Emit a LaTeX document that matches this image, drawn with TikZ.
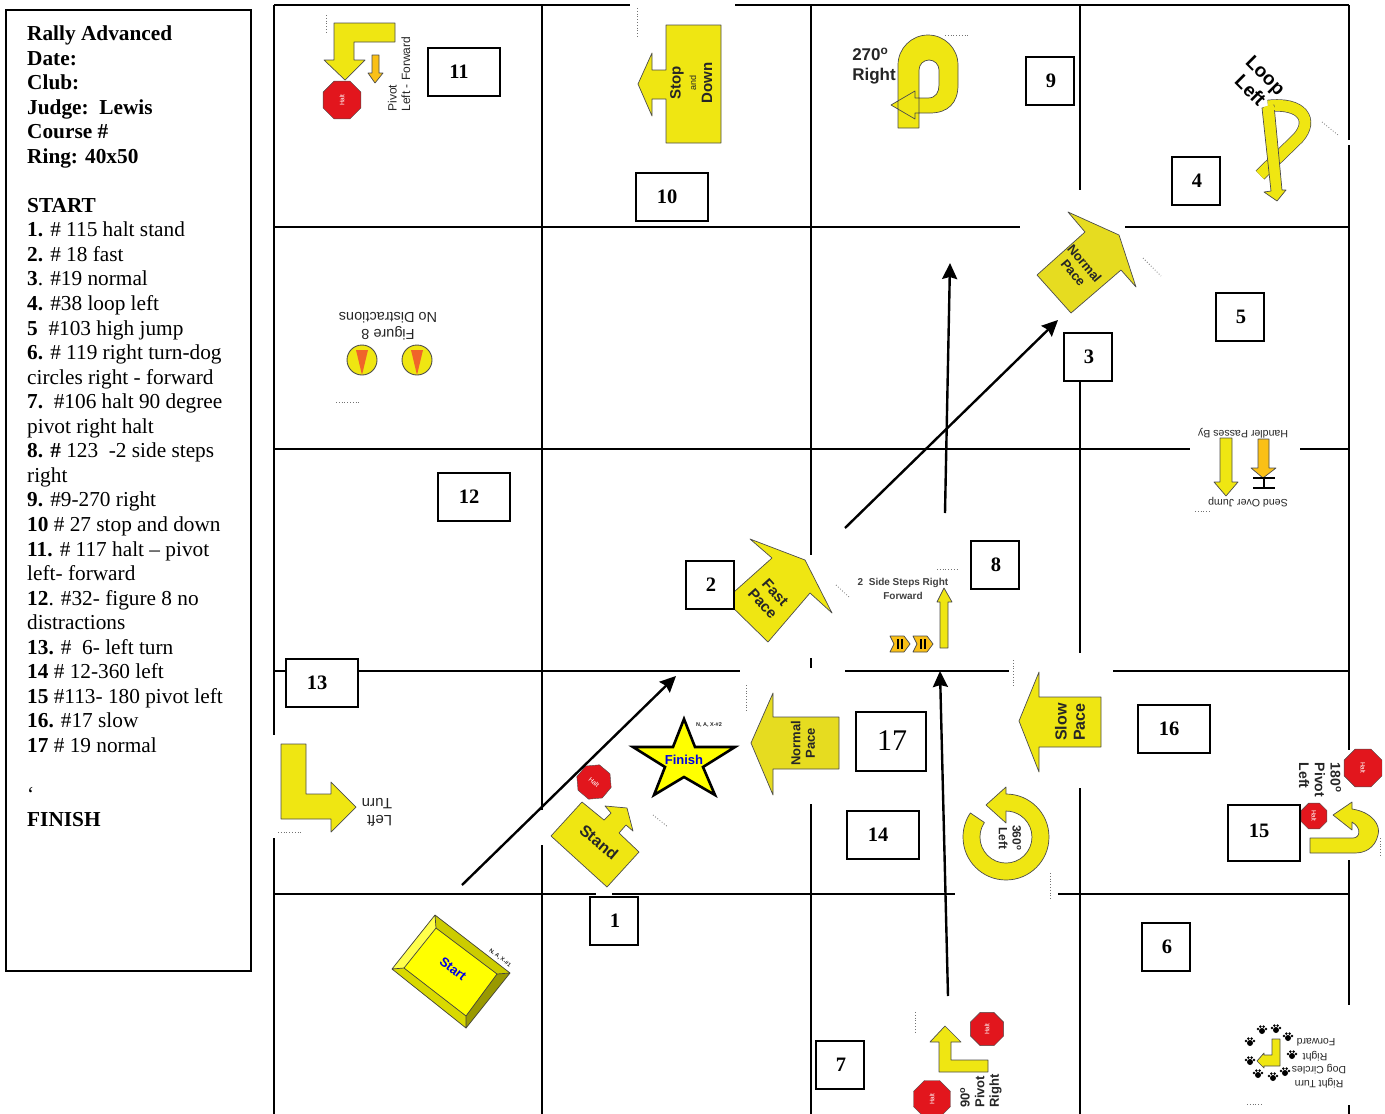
\documentclass[tikz,border=0pt]{standalone}
\usepackage{fontspec}
\setmainfont{Liberation Serif}
\setsansfont{Liberation Sans}
\usetikzlibrary{arrows.meta,shapes.geometric}
\definecolor{signyellow}{HTML}{EFE612}
\definecolor{duskyellow}{HTML}{E6DC20}
\definecolor{starkyellow}{HTML}{FFFF00}
\definecolor{conedorange}{HTML}{FAC016}
\definecolor{coneorange}{HTML}{F0642A}
\definecolor{haltred}{HTML}{E2161D}
\tikzset{
  gridline/.style={line width=2pt},
  panel/.style={draw, line width=2pt},
  paneltext/.style={align=left, anchor=north west, inner sep=0pt,
                    font=\fontsize{21.3}{24.55}\selectfont},
  numbox/.style={rectangle, draw, line width=2pt, fill=white, inner sep=0pt,
                 minimum width=48pt, minimum height=48pt,
                 execute at begin node={\hspace*{2pt}},
                 font=\bfseries\fontsize{20.5}{24}\selectfont},
  widebox/.style={numbox, minimum width=72pt,
                  execute at end node={\hspace*{12pt}}},
  signarrow/.style={draw=black!70, fill=signyellow, line width=0.7pt, line join=round},
  duskarrow/.style={signarrow, fill=duskyellow},
  orangearrow/.style={signarrow, fill=conedorange},
  signtxt/.style={align=center, inner sep=0pt, text=black!85,
                  font=\sffamily\fontsize{#1}{\fpeval{#1*1.13}}\selectfont},
  signbold/.style={signtxt=#1, font=\sffamily\bfseries\fontsize{#1}{\fpeval{#1*1.13}}\selectfont},
  leftlines/.style={align=left},
  bluetxt/.style={inner sep=0pt, text=blue!90!black,
                  font=\sffamily\bfseries\fontsize{#1}{#1}\selectfont},
  haltsign/.style={regular polygon, regular polygon sides=8,
                   draw=black!70, fill=haltred, text=white, inner sep=0pt, minimum size=#1,
                   font=\sffamily\fontsize{6.5}{7}\selectfont},
  speck/.style={dotted, line width=0.8pt, black!55},
  arrow/.style={-{Stealth[length=16pt, width=15pt, inset=2pt]}, line width=2.4pt}
}
\begin{document}
\begin{tikzpicture}[x=1pt, y=-1pt]
  \useasboundingbox (0,0) rectangle (1385,1114);

  \draw[panel] (6,10) rectangle (251,971);
  \node[paneltext] (sheet) at (27,25.5) {\textbf{Rally Advanced}\\
    \textbf{Date:}\\ \textbf{Club:}\\ \textbf{Judge:\ \ Lewis}\\ \textbf{Course \#}\\ \textbf{Ring: 40x50}\\
    \mbox{}\\
    \textbf{START}\\
    \textbf{1.} \# 115 halt stand\\
    \textbf{2.} \# 18 fast\\
    \textbf{3}. \#19 normal\\
    \textbf{4.} \#38 loop left\\
    \textbf{5}\ \ \#103 high jump\\
    \textbf{6.} \# 119 right turn-dog\\
    circles right - forward\\
    \textbf{7.}\ \ \#106 halt 90 degree\\
    pivot right halt\\
    \textbf{8. \#} 123\ \ -2 side steps\\
    right\\
    \textbf{9.} \#9-270 right\\
    \textbf{10} \# 27 stop and down\\
    \textbf{11.} \# 117 halt -- pivot\\
    left- forward\\
    \textbf{12}. \#32- figure 8 no\\
    distractions\\
    \textbf{13.} \#\ \ 6- left turn\\
    \textbf{14} \# 12-360 left\\
    \textbf{15} \#113- 180 pivot left\\
    \textbf{16.} \#17 slow\\
    \textbf{17} \# 19 normal\\
    \mbox{}\\
    `\\
    \textbf{FINISH}};

  \foreach \ya/\xa/\xb in {5/274/630, 5/735/1349, 227/274/1020, 227/1125/1349,
      449/274/1190, 449/1300/1349, 671/274/740, 671/845/1009, 671/1113/1349,
      894/274/596, 894/612/955, 894/1058/1349}
    \draw[gridline] (\xa,\ya) -- (\xb,\ya);
  \foreach \xa/\ya/\yb in {274/5/735, 274/838/1114, 542/5/810, 542/845/1114,
      811/5/555, 811/658/668, 811/804/1114, 1080/5/190, 1080/381/653, 1080/788/1114,
      1349/5/140, 1349/145/750, 1349/860/1005, 1349/1105/1114}
    \draw[gridline] (\xa,\ya) -- (\xa,\yb);

  \foreach \xa/\ya/\xb/\yb in {326/15/326/33, 637/8/637/38, 945/35/968/35, 1322/122/1338/135,
      1143/258/1161/276, 836/585/849/597, 937/569/957/569, 746/685/746/712, 1013/660/1013/686,
      336/402/360/402, 1195/511/1210/511, 653/815/668/827, 278/832/303/832, 1050/873/1050/900,
      1380/838/1380/856, 915/1012/915/1032, 1247/1104/1263/1104}
    \draw[speck] (\xa,\ya) -- (\xb,\yb);

  % start and finish
  \fill[starkyellow] (435,915) -- (510,973) -- (466,1028) -- (392,969) -- cycle;
  \fill[starkyellow!70!white] (435,915) -- (436,928) -- (404,968) -- (392,969) -- cycle;
  \fill[starkyellow!85!black] (392,969) -- (404,968) -- (466,1016) -- (466,1028) -- cycle;
  \fill[starkyellow!60!black] (466,1028) -- (466,1016) -- (497,974) -- (510,973) -- cycle;
  \fill[starkyellow!80!black] (435,915) -- (436,928) -- (497,974) -- (510,973) -- cycle;
  \draw[black!75, line width=0.7pt] (435,915) -- (510,973) -- (466,1028) -- (392,969) -- cycle
    (436,928) -- (497,974) -- (466,1016) -- (404,968) -- cycle
    (435,915) -- (436,928) (510,973) -- (497,974) (466,1028) -- (466,1016) (392,969) -- (404,968);
  \node[bluetxt=13, rotate=-38] (startlbl) at (453,969) {Start};
  \node[signbold=5.5, rotate=-38] (startcode) at (500,958) {N, A, X-\#1};

  \draw[line width=2.6pt, fill=starkyellow, line join=miter] (684,719) -- (695,747) -- (735,747) -- (703,767)
    -- (715,795) -- (684,777) -- (654,795) -- (665,767) -- (633,747) -- (673,747) -- cycle;
  \node[bluetxt=13] (finishlbl) at (684,760) {Finish};
  \node[signbold=5.5] (finishcode) at (709,725) {N, A, X-\#2};

  % 1 stand
  \draw[signarrow] (551,836) -- (582,802) -- (604,820) -- (611,813) -- (605,806) -- (627,808)
    -- (633,831) -- (626,825) -- (619,833) -- (639,852) -- (607,887) -- cycle;
  \node[signbold=16, rotate=-40] (standlbl) at (599,842) {Stand};
  \node[haltsign=36pt, rotate=-40] (halt1) at (594,782) {Halt};

  % 2 fast pace
  \draw[signarrow] (750,539) -- (805,560) -- (832,613) -- (810,593) -- (768,642) -- (725,600) -- (772,558) -- cycle;
  \node[signbold=15, rotate=-48] (fastlbl) at (769,598) {Fast\\Pace};

  % 3 normal pace
  \draw[duskarrow] (1068,212) -- (1119,235) -- (1136,287) -- (1121,270) -- (1071,313) -- (1037,275) -- (1085,232) -- cycle;
  \node[signbold=13, rotate=-50] (normal3lbl) at (1079,268) {Normal\\Pace};

  % 4 loop left
  \draw[draw=black!70, double=signyellow, double distance=11pt, line width=0.7pt]
    (1260,175) -- (1298,138) .. controls (1314,120) and (1302,102) .. (1268,106);
  \draw[signarrow] (1262,108) -- (1274,105) -- (1282,190) -- (1286,190) -- (1277,201) -- (1264,192) -- (1271,191) -- cycle;
  \fill[signyellow] (1263.5,107) -- (1273,104.5) -- (1276,110) -- (1264,111) -- cycle;
  \node[signbold=19, rotate=-45, text=black] (looplbl) at (1258,83) {Loop\\Left};

  % 5 send over jump
  \draw[signarrow] (1220,438) -- (1232,438) -- (1232,482) -- (1238,482) -- (1226,496) -- (1214,482) -- (1220,482) -- cycle;
  \draw[orangearrow] (1258,439) -- (1269,439) -- (1269,468) -- (1276,468) -- (1263,478) -- (1251,468) -- (1258,468) -- cycle;
  \draw[line width=1.6pt] (1253,478) -- (1275,478) (1253,488) -- (1275,488) (1264,478) -- (1264,488);
  \node[signtxt=10.6, rotate=180] (handlerlbl) at (1243,433) {Handler Passes By};
  \node[signtxt=10.6, rotate=180] (sendlbl) at (1248,502) {Send Over Jump};

  % 6 right turn dog circles
  \draw[signarrow] (1272,1039) -- (1280,1039) -- (1280,1066) -- (1264,1066) -- (1264,1068) -- (1257,1061) -- (1264,1053) -- (1264,1055) -- (1272,1055) -- cycle;
  \foreach \px/\py in {1262/1031, 1276/1030, 1288/1038, 1250/1043, 1292/1056, 1250/1062, 1285/1073, 1258/1075, 1273/1078} {
    \fill (\px,\py) circle (3pt);
    \foreach \dx/\dy in {-4/-2, -1.6/-4.4, 1.6/-4.4, 4/-2}
      \fill (\px+\dx,\py+\dy) circle (1.4pt);
  }
  \node[signtxt=10.5, rotate=180] (rturn1) at (1316,1042) {Forward};
  \node[signtxt=10.5, rotate=180] (rturn2) at (1315,1056) {Right};
  \node[signtxt=10.5, rotate=180] (rturn3) at (1319,1069) {Dog Circles};
  \node[signtxt=10.5, rotate=180] (rturn4) at (1319,1083) {Right Turn};

  % 7 pivot right
  \draw[signarrow] (939,1072) -- (939,1042) -- (930,1042) -- (945,1026) -- (961,1042) -- (951,1042) -- (951,1060) -- (988,1060) -- (988,1072) -- cycle;
  \node[haltsign=36pt, rotate=90] (halt7a) at (987,1029) {Halt};
  \node[haltsign=40pt, rotate=90] (halt7b) at (932,1099) {Halt};
  \node[signbold=13, leftlines, rotate=90] (pivot7lbl) at (981,1091) {90\textsuperscript{o}\\Pivot\\Right};

  % 8 side steps
  \draw[signarrow] (940,648) -- (940,602) -- (937,602) -- (944,588) -- (952,602) -- (948,602) -- (948,648) -- cycle;
  \foreach \cx in {890,913} {
    \draw[orangearrow] (\cx,636) -- (\cx+14,636) -- (\cx+20,644) -- (\cx+14,652) -- (\cx,652) -- (\cx+4,644) -- cycle;
    \draw[line width=1.4pt] (\cx+8,639) -- (\cx+8,649) (\cx+12,639) -- (\cx+12,649);
  }
  \node[signbold=10, text=black!75] (sidestepslbl) at (903,589) {2\ \ Side Steps Right\\[2pt]Forward};

  % 9 270 right
  \draw[signarrow] (898,128) -- (898,65) arc[start angle=180, end angle=0, radius=30pt]
    -- (958,85) .. controls (958,103) and (948,113) .. (930,113) -- (915,113) -- (915,119) -- (891,105) -- (915,91) -- (915,98)
    -- (928,98) .. controls (936,98) and (939,92) .. (939,85) -- (939,70) arc[start angle=0, end angle=180, radius=10pt]
    -- (919,128) -- cycle;
  \node[signbold=17, leftlines] (t270lbl) at (874,66) {270\textsuperscript{o}\\Right};

  % 10 stop and down
  \draw[signarrow] (721,25) -- (721,143) -- (666,143) -- (666,99) -- (652,99) -- (652,116) -- (638,84) -- (652,53) -- (652,70) -- (666,70) -- (666,25) -- cycle;
  \node[signbold=15, rotate=90] (stoplbl) at (677,83) {Stop};
  \node[signtxt=9, rotate=90] (andlbl) at (693,83) {and};
  \node[signbold=15, rotate=90] (downlbl) at (707,83) {Down};

  % 11 pivot left forward
  \draw[signarrow] (395,23) -- (395,42) -- (354,42) -- (354,60) -- (365,60) -- (345,80) -- (324,60) -- (334,60) -- (334,23) -- cycle;
  \draw[orangearrow] (372,55) -- (379,55) -- (379,73) -- (383,73) -- (375,83) -- (368,73) -- (372,73) -- cycle;
  \node[haltsign=41pt, rotate=90] (halt11) at (342,100) {Halt};
  \node[signtxt=12, leftlines, rotate=90] (pivot11lbl) at (399,74) {Pivot\\Left - Forward};

  % 12 figure 8
  \foreach \cx in {362,417} {
    \draw[signarrow, line width=0.9pt] (\cx,360) circle (15pt);
    \fill[coneorange] (\cx-6,350) -- (\cx+6,350) -- (\cx,375) -- cycle;
  }
  \node[signtxt=14.5, rotate=180] (figlbl) at (388,326) {Figure 8\\No Distractions};

  % 13 left turn
  \draw[signarrow] (281,744) -- (306,744) -- (306,794) -- (331,794) -- (331,782) -- (356,807) -- (331,832) -- (331,819) -- (281,819) -- cycle;
  \node[signtxt=15, leftlines, rotate=180] (leftturnlbl) at (377,812) {Left\\Turn};

  % 14 360 left
  \draw[signarrow] (1006,794) arc[start angle=90, end angle=-214, radius=43pt] -- (984.4,822.5)
    arc[start angle=146, end angle=450, radius=26pt] -- (1006,823) -- (986,805) -- (1006,787) -- cycle;
  \node[signbold=12, rotate=-90] (circlelbl) at (1010,838) {360\textsuperscript{o}\\Left};

  % 15 180 pivot left
  \draw[signarrow] (1310,838) -- (1353,838) .. controls (1360,838) and (1362,828) .. (1352,822) -- (1352,830) -- (1333,815) -- (1352,802) -- (1352,809)
    .. controls (1372,812) and (1381,825) .. (1378,835) .. controls (1375,848) and (1365,853) .. (1355,853) -- (1310,853) -- cycle;
  \node[haltsign=41pt, rotate=-90] (halt15a) at (1363,768) {Halt};
  \node[haltsign=28pt, rotate=-90] (halt15b) at (1314,816) {Halt};
  \node[signbold=14, leftlines, rotate=-90] (pivot15lbl) at (1320,780) {180\textsuperscript{o}\\Pivot\\Left};

  % 16 slow pace
  \draw[signarrow] (1019,721) -- (1039,672) -- (1039,697) -- (1101,697) -- (1101,747) -- (1039,747) -- (1039,772) -- cycle;
  \node[signbold=16, rotate=90] (slowlbl) at (1070,722) {Slow\\Pace};

  % 17 normal pace
  \draw[duskarrow] (751,743) -- (773,693) -- (773,717) -- (839,717) -- (839,769) -- (773,769) -- (773,795) -- cycle;
  \node[signbold=13, rotate=90] (normal17lbl) at (803,743) {Normal\\Pace};

  \coordinate (run1a) at (462,885);
  \coordinate (run1b) at (676,676);
  \coordinate (run2a) at (845,528);
  \coordinate (run2b) at (1058,320);
  \coordinate (run3a) at (945,513);
  \coordinate (run3b) at (950,263);
  \coordinate (run4a) at (948,996);
  \coordinate (run4b) at (940,671);
  \draw[arrow] (run1a) -- (run1b);
  \draw[arrow] (run2a) -- (run2b);
  \draw[arrow] (run3a) -- (run3b);
  \draw[arrow] (run4a) -- (run4b);

  \node[numbox] (n1) at (614,921) {1};
  \node[numbox] (n2) at (710,585) {2};
  \node[numbox] (n3) at (1088,357) {3};
  \node[numbox] (n4) at (1196,181) {4};
  \node[numbox] (n5) at (1240,317) {5};
  \node[numbox] (n6) at (1166,947) {6};
  \node[numbox] (n7) at (840,1065) {7};
  \node[numbox] (n8) at (995,565) {8};
  \node[numbox] (n9) at (1050,81) {9};
  \node[widebox] (n10) at (672,197) {10};
  \node[widebox] (n11) at (464,72) {11};
  \node[widebox] (n12) at (474,497) {12};
  \node[widebox] (n13) at (322,683) {13};
  \node[widebox] (n14) at (883,835) {14};
  \node[widebox, minimum height=56pt] (n15) at (1264,833) {\raisebox{4pt}{15}};
  \node[widebox] (n16) at (1174,729) {16};
  \node[numbox, minimum width=70pt, minimum height=59pt, font=\fontsize{30}{32}\selectfont] (n17) at (891,741) {17};
\end{tikzpicture}
\end{document}
